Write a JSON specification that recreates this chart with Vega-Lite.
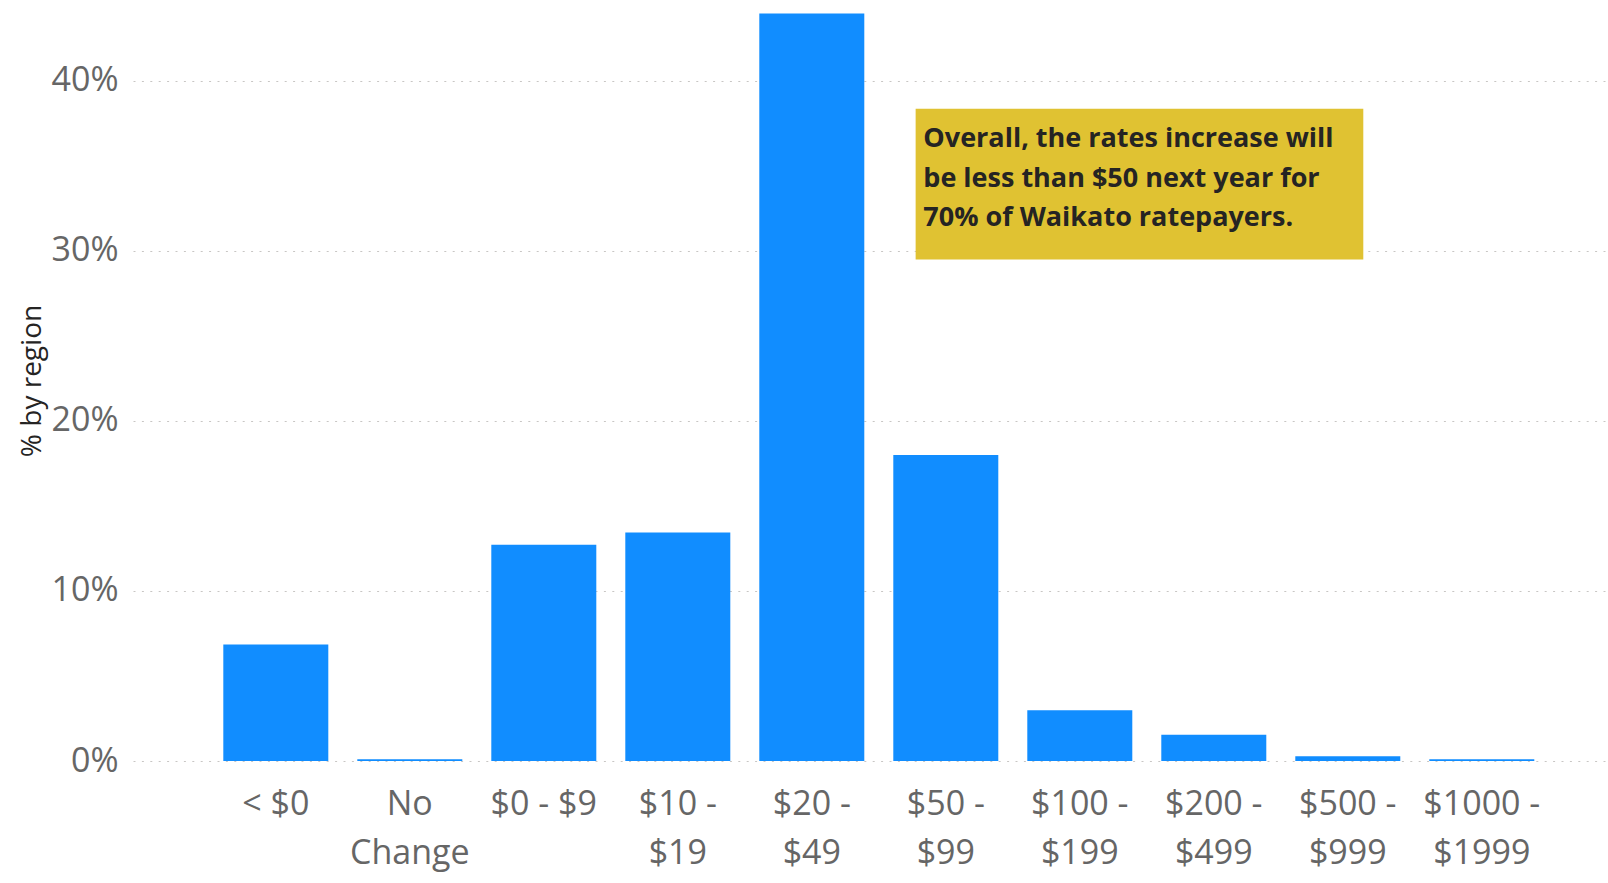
{
  "$schema": "https://vega.github.io/schema/vega-lite/v6.json",
  "width": 1475,
  "height": 761,
  "autosize": {"type": "none"},
  "padding": {"left": 133, "top": 0, "right": 0, "bottom": 122},
  "background": "white",
  "config": {"view": {"stroke": null}, "font": "Open Sans"},
  "datasets": {
    "bars": [
      {"band": "< $0", "pct": 0.0685},
      {"band": "No Change", "pct": 0.001},
      {"band": "$0 - $9", "pct": 0.1272},
      {"band": "$10 - $19", "pct": 0.1344},
      {"band": "$20 - $49", "pct": 0.4396},
      {"band": "$50 - $99", "pct": 0.1799},
      {"band": "$100 - $199", "pct": 0.0299},
      {"band": "$200 - $499", "pct": 0.0154},
      {"band": "$500 - $999", "pct": 0.0028},
      {"band": "$1000 - $1999", "pct": 0.001}
    ],
    "note": [
      {"x0": 0.5306, "x1": 0.8341, "y0": 0.2949, "y1": 0.3835, "tx": 0.5358, "ty": 0.3609,
       "text": "Overall, the rates increase will\nbe less than $50 next year for\n70% of Waikato ratepayers."}
    ]
  },
  "layer": [
    {
      "data": {"name": "bars"},
      "mark": {"type": "bar", "color": "#118DFF"},
      "encoding": {
        "x": {
          "field": "band", "type": "nominal", "sort": null,
          "scale": {"paddingInner": 0.2164, "paddingOuter": 0.612, "align": 0.5506, "round": false},
          "axis": {
            "title": null, "labelAngle": 0, "labelFontSize": 34, "labelColor": "#666666",
            "labelFont": "Open Sans", "labelPadding": 26, "labelLineHeight": 49, "labelLimit": 0,
            "ticks": false, "domain": false, "grid": false, "labelBaseline": "top",
            "labelExpr": "length(datum.label) > 7 ? [substring(datum.label, 0, lastindexof(datum.label, ' ')), substring(datum.label, lastindexof(datum.label, ' ') + 1)] : datum.label"
          }
        },
        "y": {
          "field": "pct", "type": "quantitative",
          "scale": {"domain": [0, 0.4475], "nice": false},
          "axis": {
            "title": "% by region", "format": ".0%", "values": [0, 0.1, 0.2, 0.3, 0.4],
            "labelFontSize": 34, "labelColor": "#666666", "labelFont": "Open Sans", "labelPadding": 15,
            "grid": true, "gridDash": [2, 6.4], "gridColor": "#C8C6C4", "gridWidth": 1,
            "domain": false, "ticks": false,
            "titleFontSize": 28, "titleFontWeight": "normal", "titleColor": "#252423",
            "titleFont": "Open Sans", "titlePadding": 5
          }
        }
      }
    },
    {
      "data": {"name": "note"},
      "mark": {"type": "rect", "color": "#E0C232"},
      "encoding": {
        "x": {"field": "x0", "type": "quantitative", "scale": {"domain": [0, 1], "nice": false, "zero": false}, "axis": null},
        "x2": {"field": "x1"},
        "y": {"field": "y0", "type": "quantitative", "scale": {"domain": [0, 0.4475], "nice": false}},
        "y2": {"field": "y1"}
      }
    },
    {
      "data": {"name": "note"},
      "mark": {"type": "text", "align": "left", "baseline": "alphabetic", "fontSize": 27, "fontWeight": "bold",
               "color": "#252423", "lineHeight": 39.5, "lineBreak": "\n", "font": "Open Sans"},
      "encoding": {
        "x": {"field": "tx", "type": "quantitative", "scale": {"domain": [0, 1], "nice": false, "zero": false}, "axis": null},
        "y": {"field": "ty", "type": "quantitative", "scale": {"domain": [0, 0.4475], "nice": false}},
        "text": {"field": "text"}
      }
    }
  ],
  "resolve": {"scale": {"x": "independent"}}
}
